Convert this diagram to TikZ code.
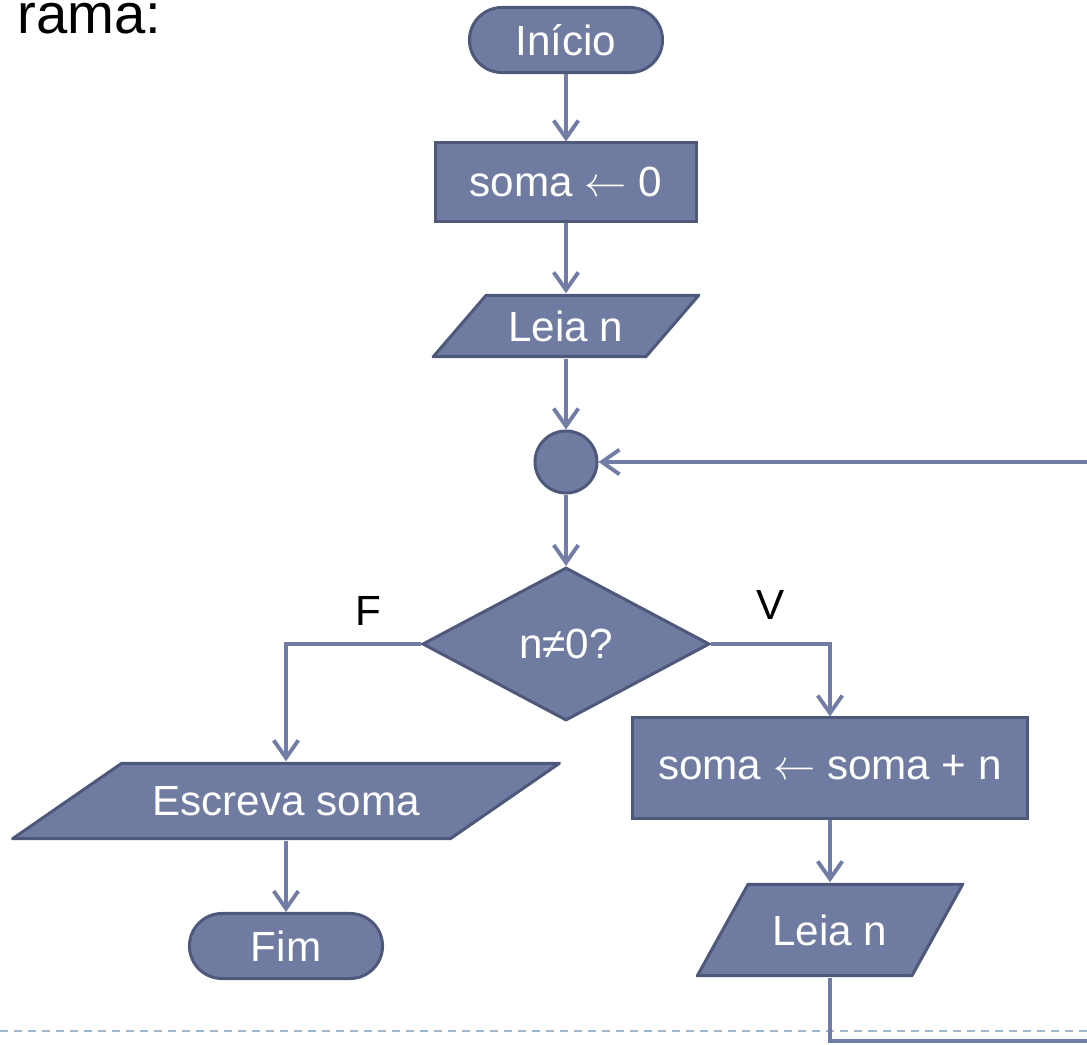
\documentclass[tikz,border=0pt]{standalone}
\usepackage{fontspec}
\setmainfont{Liberation Sans}
\usetikzlibrary{shapes.geometric,arrows.meta}
\definecolor{caixa}{RGB}{111,123,160}
\definecolor{borda}{RGB}{78,88,122}
\definecolor{linha}{RGB}{113,125,165}
\definecolor{tracejado}{RGB}{160,184,206}
\tikzset{
	bloco/.style={draw=borda, fill=caixa, line width=0.85pt, text=white, font=\fontsize{12}{14}\selectfont, inner sep=0pt},
	terminal/.style={bloco, rectangle, rounded corners=0.325cm, minimum width=1.93cm, minimum height=0.65cm},
	processo/.style={bloco, rectangle},
	entrada/.style={rectangle, text=white, font=\fontsize{12}{14}\selectfont, inner sep=0pt, path picture={
		\path[fill=caixa, draw=borda, line width=0.85pt]
			([xshift=#1, yshift=-0.425pt]path picture bounding box.north west) --
			([xshift=-0.425pt, yshift=-0.425pt]path picture bounding box.north east) --
			([xshift=-#1, yshift=0.425pt]path picture bounding box.south east) --
			([xshift=0.425pt, yshift=0.425pt]path picture bounding box.south west) -- cycle;}},
	decisao/.style={bloco, diamond, minimum width=2.87cm, minimum height=1.53cm},
	conector/.style={bloco, circle, minimum size=0.62cm},
	fluxo/.style={draw=linha, line width=1.1pt, -{Straight Barb[length=5pt,width=7pt]}},
	rotulo/.style={font=\fontsize{12}{14}\selectfont, inner sep=0pt}
}
\begin{document}
\begin{tikzpicture}[x=0.01cm, y=-0.01cm]
			\useasboundingbox (0,0) rectangle (1087,1045);
			\clip (0,0) rectangle (1087,1045);
			\node[font=\fontsize{16}{19}\selectfont, inner sep=0pt, anchor=base east] (titulo) at (162,33) {rama:};
			\draw[tracejado][line width=0.7pt, dash pattern=on 0.08cm off 0.06cm] (0,1031) -- (1087,1031);
			% blocos
			\node[terminal] (inicio) at (566,40) {Início};
			\node[processo, minimum width=2.60cm, minimum height=0.78cm] (zera) at (566,182) {soma $\leftarrow$ 0};
			\node[entrada=0.54cm, minimum width=2.68cm, minimum height=0.64cm] (leia1) at (566,326) {Leia n};
			\node[conector] (volta) at (566,462) {};
			\node[decisao] (teste) at (566,644) {n≠0?};
			\node[entrada=1.10cm, minimum width=5.49cm, minimum height=0.78cm] (escreva) at (286,801) {Escreva soma};
			\node[terminal] (fim) at (286,946) {Fim};
			\node[processo, minimum width=3.95cm, minimum height=1.00cm] (acumula) at (830,768) {soma $\leftarrow$ soma + n};
			\node[entrada=0.52cm, minimum width=2.68cm, minimum height=0.94cm] (leia2) at (830,930) {Leia n};
			\node[rotulo] (falso) at (368,611) {F};
			\node[rotulo] (verdadeiro) at (771,605) {V};
			\coordinate (canto) at (1120,1041);
			% ligacoes
			\foreach \a/\b in {inicio/zera, zera/leia1, leia1/volta, volta/teste, escreva/fim, acumula/leia2}
				\draw[fluxo] (\a) -- (\b);
			\draw[fluxo] (teste.west) -| (escreva.north);
			\draw[fluxo] (teste.east) -| (acumula.north);
			\draw[fluxo] (leia2.south) |- (canto) |- (volta.east);
\end{tikzpicture}
\end{document}
